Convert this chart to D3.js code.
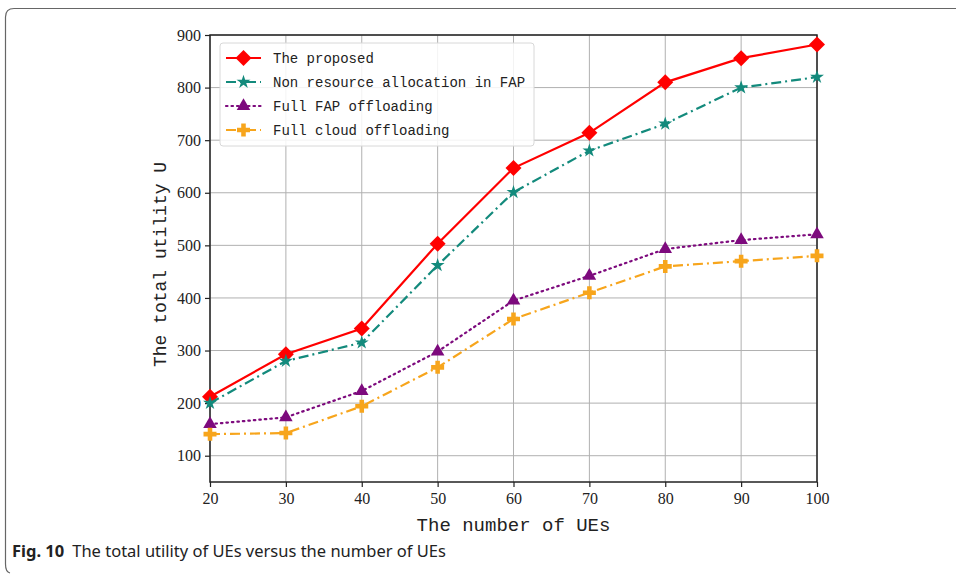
<!DOCTYPE html>
<html>
<head>
<meta charset="utf-8">
<script src="https://cdn.jsdelivr.net/npm/d3@7"></script>
<style>
  body { margin: 0; background: #fff; }
  svg { display: block; }
</style>
</head>
<body>
<script>
// data
var ues = [20, 30, 40, 50, 60, 70, 80, 90, 100];
var proposed = [212, 293, 342, 503, 647, 714, 810, 856, 882];
var nonAlloc = [200, 280, 315, 462, 601, 680, 731, 800, 820];
var fullFap = [160, 173, 223, 298, 395, 442, 493, 510, 521];
var fullCloud = [141, 143, 194, 268, 360, 410, 460, 470, 480];
var yTicks = [100, 200, 300, 400, 500, 600, 700, 800, 900];
var seriesNames = ["The proposed", "Non resource allocation in FAP", "Full FAP offloading", "Full cloud offloading"];

var width = 956, height = 574;
// plot box (window.top is taken, so pX names)
var pLeft = 210, pRight = 817, pTop = 35, pBottom = 482;

var svg = d3.select("body").append("svg")
  .attr("width", width)
  .attr("height", height);

// outer figure frame with rounded left corners
svg.append("path")
  .attr("d", "M956,8.5 L14,8.5 Q5.5,8.5 5.5,17 L5.5,564 Q5.5,572 10,573")
  .attr("fill", "none")
  .attr("stroke", "#666")
  .attr("stroke-width", 1.2);

var x = d3.scaleLinear().domain([20, 100]).range([pLeft, pRight]);
var y = d3.scaleLinear().domain([50, 900]).range([pBottom, pTop]);

// grid
svg.append("g")
  .selectAll("line")
  .data(ues)
  .join("line")
  .attr("x1", d => x(d)).attr("x2", d => x(d))
  .attr("y1", pTop).attr("y2", pBottom)
  .attr("stroke", "#b0b0b0").attr("stroke-width", 1);

svg.append("g")
  .selectAll("line")
  .data(yTicks)
  .join("line")
  .attr("x1", pLeft).attr("x2", pRight)
  .attr("y1", d => y(d)).attr("y2", d => y(d))
  .attr("stroke", "#b0b0b0").attr("stroke-width", 1);

// axes
var xAxis = svg.append("g")
  .attr("transform", `translate(0,${pBottom})`)
  .call(d3.axisBottom(x).tickValues(ues).tickSize(5).tickPadding(6));
var yAxis = svg.append("g")
  .attr("transform", `translate(${pLeft},0)`)
  .call(d3.axisLeft(y).tickValues(yTicks).tickSize(5).tickPadding(4));

[xAxis, yAxis].forEach(function (a) {
  a.select(".domain").remove();
  a.selectAll("line").attr("stroke", "#222").attr("stroke-width", 1.2);
  a.selectAll("text")
    .attr("font-family", "Liberation Serif, serif")
    .attr("font-size", 16)
    .attr("fill", "#222");
});

svg.append("rect")
  .attr("x", pLeft).attr("y", pTop)
  .attr("width", pRight - pLeft).attr("height", pBottom - pTop)
  .attr("fill", "none")
  .attr("stroke", "#222").attr("stroke-width", 1.5);

// axis titles
svg.append("text")
  .attr("x", (pLeft + pRight) / 2)
  .attr("y", 531)
  .attr("text-anchor", "middle")
  .attr("font-family", "Liberation Mono, monospace")
  .attr("font-size", 19)
  .attr("fill", "#222")
  .text("The number of UEs");

svg.append("text")
  .attr("transform", `translate(166,${(pTop + pBottom) / 2 + 6}) rotate(-90)`)
  .attr("text-anchor", "middle")
  .attr("font-family", "Liberation Mono, monospace")
  .attr("font-size", 18)
  .attr("fill", "#222")
  .text("The total utility U");

// markers
var star = d3.symbol().type(d3.symbolStar).size(60);
var tri = d3.symbol().type(d3.symbolTriangle).size(80);

function diamondPath(r) {
  return `M0,${-r}L${r},0L0,${r}L${-r},0Z`;
}

function plusPath(s) {
  // thick filled plus
  var a = s, b = s * 0.35;
  return `M${-b},${-a}H${b}V${-b}H${a}V${b}H${b}V${a}H${-b}V${b}H${-a}V${-b}H${-b}Z`;
}

var series = [
  { name: seriesNames[0], values: proposed, color: "#ff0000", dash: null, marker: diamondPath(8) },
  { name: seriesNames[1], values: nonAlloc, color: "#138a7c", dash: "10,4,2,4", marker: star() },
  { name: seriesNames[2], values: fullFap, color: "#7d0a7d", dash: "1.5,4", marker: tri() },
  { name: seriesNames[3], values: fullCloud, color: "#f7a51c", dash: "10,4,2,4", marker: plusPath(6.5) }
];

var line = d3.line()
  .x((d, i) => x(ues[i]))
  .y(d => y(d));

var plot = svg.append("g");
series.forEach(function (s) {
  plot.append("path")
    .attr("d", line(s.values))
    .attr("fill", "none")
    .attr("stroke", s.color)
    .attr("stroke-width", 2.2)
    .attr("stroke-linecap", s.dash === "1.5,4" ? "round" : "butt")
    .attr("stroke-dasharray", s.dash);

  plot.selectAll(null)
    .data(s.values)
    .join("path")
    .attr("transform", (d, i) => `translate(${x(ues[i])},${y(d)})`)
    .attr("d", s.marker)
    .attr("fill", s.color);
});

// legend
var lg = svg.append("g").attr("transform", "translate(220,43)");
lg.append("rect")
  .attr("width", 314).attr("height", 103)
  .attr("rx", 3)
  .attr("fill", "rgba(255,255,255,0.85)")
  .attr("stroke", "#d8d8d8");

series.forEach(function (s, i) {
  var g = lg.append("g").attr("transform", `translate(0,${15 + i * 24})`);
  g.append("line")
    .attr("x1", 6).attr("x2", 41)
    .attr("stroke", s.color)
    .attr("stroke-width", 2.2)
    .attr("stroke-linecap", s.dash === "1.5,4" ? "round" : "butt")
    .attr("stroke-dasharray", s.dash);
  g.append("path")
    .attr("transform", "translate(23.5,0)")
    .attr("d", s.marker)
    .attr("fill", s.color);
  g.append("text")
    .attr("x", 53)
    .attr("dy", "0.35em")
    .attr("font-family", "Liberation Mono, monospace")
    .attr("font-size", 14)
    .attr("fill", "#222")
    .text(s.name);
});

// caption
var cap = svg.append("text")
  .attr("x", 12)
  .attr("y", 557)
  .attr("font-family", "Noto Sans, sans-serif")
  .attr("font-size", 16.5)
  .attr("fill", "#222");
cap.append("tspan").attr("font-weight", "bold").text("Fig. 10");
cap.append("tspan").attr("dx", 8).text("The total utility of UEs versus the number of UEs");
</script>
</body>
</html>
